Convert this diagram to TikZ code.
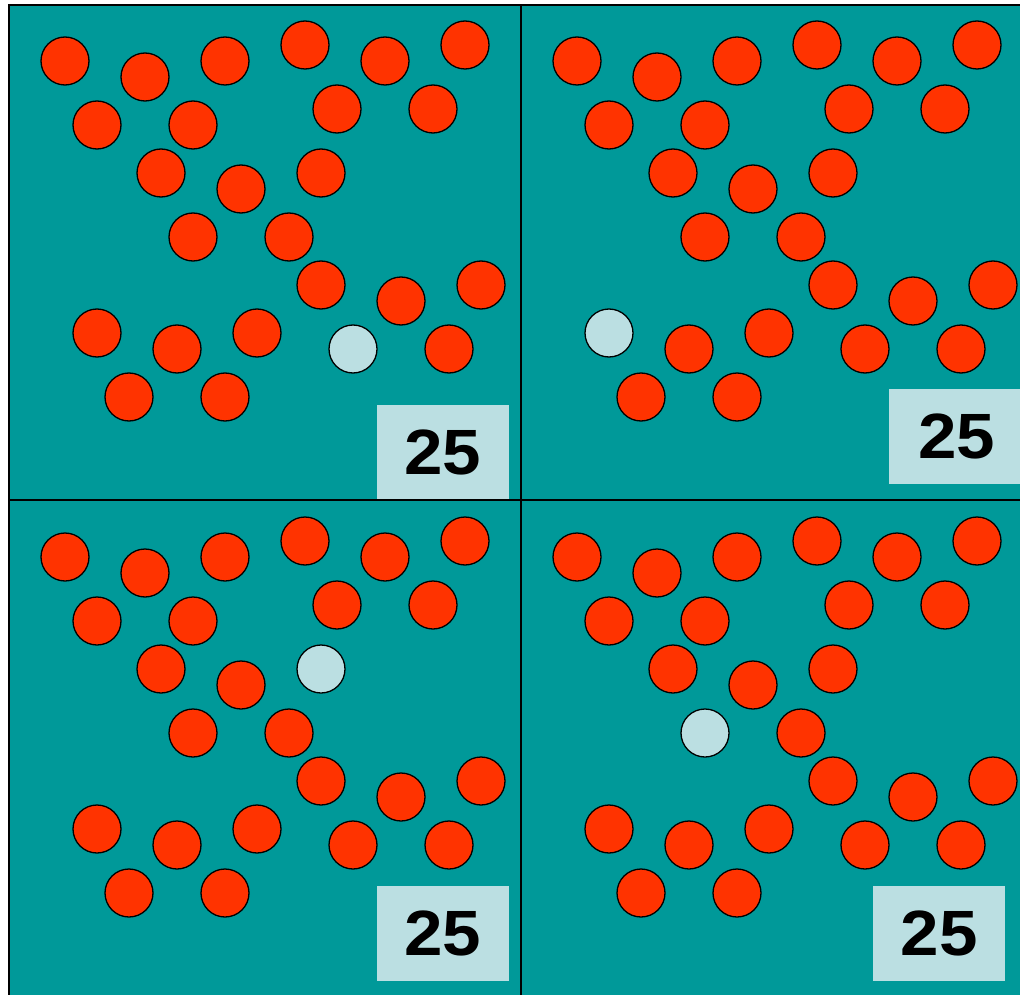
\documentclass[tikz,border=0pt]{standalone}
\usepackage{fontspec}
\setmainfont{Liberation Sans}
\usepackage{tikz}
\usetikzlibrary{positioning}
\definecolor{bdOcean}{HTML}{009999}
\definecolor{bdBall}{HTML}{FF3300}
\definecolor{bdIce}{HTML}{BBDFE2}
\tikzset{
  ball/.style={draw=black, line width=1.3pt, circle, minimum size=48pt, inner sep=0pt},
  countbox/.style={fill=bdIce, minimum width=132pt, minimum height=95pt, inner sep=0pt,
    font=\fontsize{64}{64}\selectfont\bfseries},
  divider/.style={line width=2pt, black}
}
\newcommand{\countlabel}{\raisebox{-3pt}{\scalebox{1.08}[1]{25}}}
\begin{document}
\begin{tikzpicture}[x=1pt, y=-1pt]
  \fill[white] (0,0) rectangle (1020,995);
  \useasboundingbox (0,0) rectangle (1020,995);
  \fill[bdOcean] (9,5) rectangle (1024,999);
  % four panels, one spare ball each
  \foreach \dx/\dy/\hit/\p in {0/0/22/a, 512/0/19/b, 0/496/13/c, 512/496/14/d} {
    \foreach \x/\y [count=\k] in {65/61, 145/77, 225/61, 305/45, 385/61, 465/45,
        97/125, 193/125, 337/109, 433/109, 161/173, 241/189, 321/173,
        193/237, 289/237, 321/285, 401/301, 481/285,
        97/333, 177/349, 257/333, 353/349, 449/349, 129/397, 225/397} {
      \ifnum\k=\hit \def\ballcol{bdIce}\else\def\ballcol{bdBall}\fi
      \node[ball, fill=\ballcol] (\p\k) at (\x+\dx, \y+\dy) {};
    }
  }
  \node[countbox] (na) at (443,452.5) {\countlabel};
  \node[countbox, minimum width=136pt] (nb) at (956.5,436.5) {\countlabel};
  \node[countbox] (nc) at (443,933) {\countlabel};
  \node[countbox] (nd) at (939,933) {\countlabel};
  % frame and dividers
  \draw[divider] (9,5) rectangle (1024,999);
  \draw[divider] (9,500) -- (1024,500);
  \draw[divider] (521,5) -- (521,999);
\end{tikzpicture}
\end{document}
